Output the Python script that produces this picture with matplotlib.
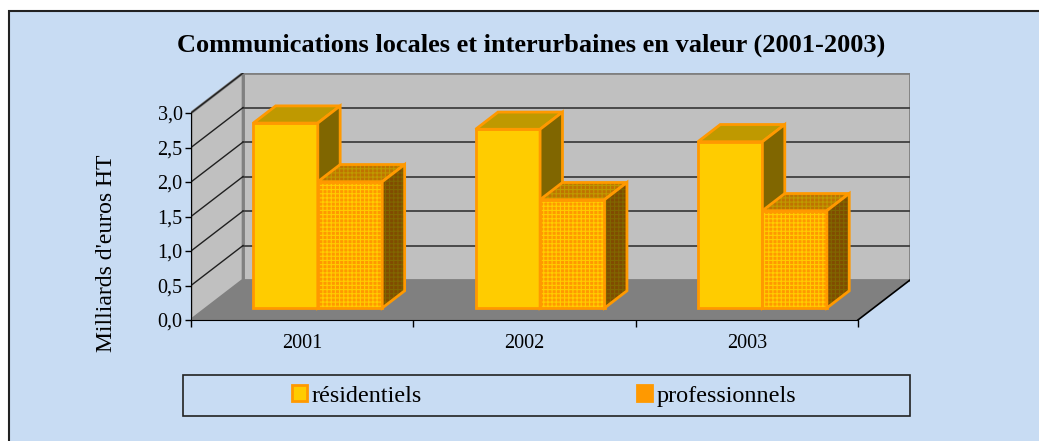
import matplotlib
matplotlib.use('Agg')
import matplotlib.pyplot as plt
from matplotlib.patches import Polygon, Rectangle, Patch
from matplotlib.ticker import FuncFormatter

# data
annees = ['2001', '2002', '2003']
residentiels = [2.68, 2.59, 2.41]
professionnels = [1.83, 1.57, 1.41]
series_noms = ['résidentiels', 'professionnels']
y_ticks = [0.0, 0.5, 1.0, 1.5, 2.0, 2.5, 3.0]

plt.rcParams['font.family'] = ['Liberation Serif', 'DejaVu Serif']
plt.rcParams['hatch.linewidth'] = 0.8

W, H = 1039, 441
fig = plt.figure(figsize=(W / 100, H / 100), dpi=100)
fig.patch.set_facecolor('white')
fig.patches.append(Rectangle((9 / W, -0.1), 1.2, (H - 11) / H + 0.1,
                             transform=fig.transFigure, facecolor='#C8DCF3',
                             edgecolor='#222222', lw=1.5, zorder=-5))

# front plane 191..857 px wide for 3 categories, 69 px per unit
DX = 52 / 222.0
DY = 40 / 69.0
ax = fig.add_axes([191 / W, (H - 320) / H, 719 / W, 247 / H])
ax.set_xlim(0, 3 + DX)
ax.set_ylim(0, 3 + DY)
ax.patch.set_visible(False)
ymax = 3.0
n = len(annees)


def P(x, y, z):
    return (x + z * DX, y + z * DY)


def poly(pts, **kw):
    ax.add_patch(Polygon(pts, closed=True, **kw))


# walls and floor
poly([P(0, 0, 0), P(n, 0, 0), P(n, 0, 1), P(0, 0, 1)], facecolor='#808080',
     edgecolor='none', zorder=1)
poly([P(0, 0, 1), P(n, 0, 1), P(n, ymax, 1), P(0, ymax, 1)], facecolor='#C0C0C0',
     edgecolor='#808080', lw=2, zorder=1)
poly([P(0, 0, 0), P(0, 0, 1), P(0, ymax, 1), P(0, ymax, 0)], facecolor='#C0C0C0',
     edgecolor='#808080', lw=2, zorder=1)
ax.plot(*zip(P(n, 0, 0), P(n, 0, 1)), color='black', lw=1.2, zorder=2)

for v in y_ticks[1:-1]:
    ax.plot(*zip(P(0, v, 1), P(n, v, 1)), color='#404040', lw=1.3, zorder=2)
for v in y_ticks[1:]:
    ax.plot(*zip(P(0, v, 0), P(0, v, 1)), color='#202020', lw=1.0, zorder=2)

# bars
bw = 0.29
x_start = 0.21
z0, z1 = 0.3, 0.73
edge = '#FF9900'
styles = [
    dict(front=('#FFCC00', None), top=('#BF9900', None), side=('#806600', None)),
    dict(front=('#FF9900', '#FFCC00'), top=('#BF7300', '#BF9900'), side=('#804C00', '#806600')),
]

zo = 3
for i in range(n):
    for j, vals in enumerate([residentiels, professionnels]):
        v = vals[i]
        x0 = i + x_start + j * bw
        x1 = x0 + bw
        faces = {
            'front': [P(x0, 0, z0), P(x1, 0, z0), P(x1, v, z0), P(x0, v, z0)],
            'top': [P(x0, v, z0), P(x1, v, z0), P(x1, v, z1), P(x0, v, z1)],
            'side': [P(x1, 0, z0), P(x1, 0, z1), P(x1, v, z1), P(x1, v, z0)],
        }
        for name in ['front', 'top', 'side']:
            fc, hc = styles[j][name]
            if hc is None:
                poly(faces[name], facecolor=fc, edgecolor=edge, lw=2,
                     joinstyle='miter', zorder=zo)
            else:
                poly(faces[name], facecolor=fc, edgecolor=hc, lw=0,
                     hatch='++++', zorder=zo)
                poly(faces[name], fill=False, edgecolor=edge, lw=2,
                     joinstyle='miter', zorder=zo)
            zo += 1

# axes
for s in ['top', 'right']:
    ax.spines[s].set_visible(False)
ax.spines['left'].set_bounds(0, ymax)
ax.spines['bottom'].set_bounds(0, n)
ax.spines['left'].set_zorder(50)
ax.spines['bottom'].set_zorder(50)
ax.set_yticks(y_ticks)
ax.yaxis.set_major_formatter(FuncFormatter(lambda v, p: ('%.1f' % v).replace('.', ',')))
ax.tick_params(axis='y', direction='out', length=4, width=1, pad=2, labelsize=14.5)
ax.set_xticks(range(n + 1))
ax.set_xticklabels([])
ax.set_xticks([i + 0.5 for i in range(n)], minor=True)
ax.set_xticklabels(annees, minor=True)
ax.tick_params(axis='x', which='major', direction='out', length=5, width=1)
ax.tick_params(axis='x', which='minor', length=0, pad=10, labelsize=14.5)

fig.text(531 / W, 1 - 45 / H, 'Communications locales et interurbaines en valeur (2001-2003)',
         ha='center', va='center', fontsize=19, fontweight='bold')
fig.text(107 / W, 1 - 253 / H, "Milliards d'euros HT", rotation=90,
         ha='center', va='center', fontsize=17)

# legend
fig.patches.append(Rectangle((183 / W, 1 - 416 / H), 727 / W, 41 / H,
                             transform=fig.transFigure, facecolor='none',
                             edgecolor='#222222', lw=1.2, zorder=5))
handles = [Patch(facecolor='#FFCC00', edgecolor='#FF9900', lw=2),
           Patch(facecolor='#FF9900', edgecolor='#FF9900', lw=2)]
fig.legend(handles, series_noms, loc='center left',
           bbox_to_anchor=(292 / W, 1 - 396 / H), ncol=2, frameon=False,
           fontsize=17.4, handlelength=0.62, handleheight=0.6, handletextpad=0.2,
           columnspacing=8.9, borderpad=0, borderaxespad=0)

fig.savefig('out.png', dpi=100)
